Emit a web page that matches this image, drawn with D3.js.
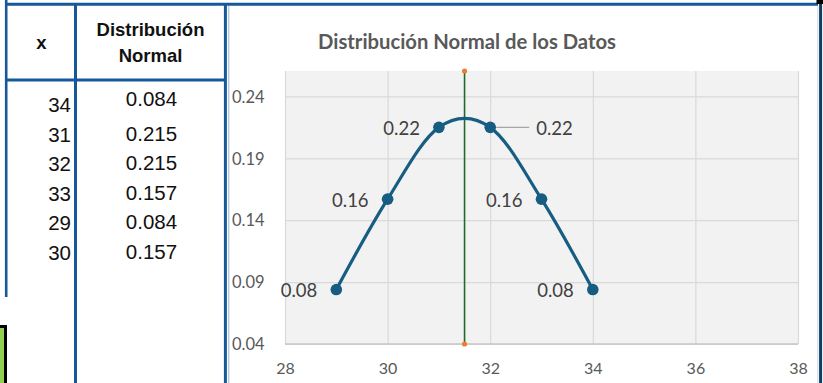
<!DOCTYPE html>
<html>
<head>
<meta charset="utf-8">
<script src="https://cdn.jsdelivr.net/npm/d3@7/dist/d3.min.js"></script>
<style>
  html, body { margin: 0; padding: 0; background: #ffffff; }
  svg { display: block; }
</style>
</head>
<body>
<svg id="chart" width="823" height="383"></svg>
<script>
// ---------------- data ----------------
const tableHeaderX = "x";
const tableHeaderDist = ["Distribución", "Normal"];
const xValues = [34, 31, 32, 33, 29, 30];
const normValues = [0.084, 0.215, 0.215, 0.157, 0.084, 0.157];
const chartTitle = "Distribución Normal de los Datos";
const xTicks = [28, 30, 32, 34, 36, 38];
const yTicks = [0.04, 0.09, 0.14, 0.19, 0.24];
const meanX = 31.5;
const xDomain = [28, 38];
const yDomain = [0.04, 0.2605];

// ---------------- layout ----------------
const W = 823, H = 383;
const plot = { left: 285, right: 798, top: 71, bottom: 344 };
const blue = "#17589a";
const svg = d3.select("#chart");

// ---------- table ----------
const tbl = svg.append("g");
const tFont = "'Liberation Sans', Arial, sans-serif";
tbl.append("text").attr("x", 41.5).attr("y", 49).attr("text-anchor", "middle")
  .attr("font-family", tFont).attr("font-weight", "bold").attr("font-size", 18.5)
  .attr("fill", "#111").text(tableHeaderX);
tableHeaderDist.forEach((t, i) => {
  tbl.append("text").attr("x", 150.5).attr("y", 36 + i * 25.5).attr("text-anchor", "middle")
    .attr("font-family", tFont).attr("font-weight", "bold").attr("font-size", 18.5)
    .attr("fill", "#111").text(t);
});
const rowBase = 112, rowStep = 29.55;
xValues.forEach((v, i) => {
  tbl.append("text").attr("x", 71).attr("y", rowBase + i * rowStep).attr("text-anchor", "end")
    .attr("font-family", tFont).attr("font-size", 20.5).attr("fill", "#111").text(v);
});
normValues.forEach((v, i) => {
  const shift = i === 0 ? -6 : -1;
  tbl.append("text").attr("x", 151.5).attr("y", rowBase + i * rowStep + shift).attr("text-anchor", "middle")
    .attr("font-family", tFont).attr("font-size", 20.5).attr("fill", "#111").text(v.toFixed(3));
});

// green cell at bottom left
svg.append("rect").attr("x", -10).attr("y", 326.5).attr("width", 15.5).attr("height", 80)
  .attr("fill", "#92d050").attr("stroke", "#000").attr("stroke-width", 3);

// ---------- chart ----------
const x = d3.scaleLinear().domain(xDomain).range([plot.left, plot.right]);
const y = d3.scaleLinear().domain(yDomain).range([plot.bottom, plot.top]);

svg.append("rect").attr("x", plot.left).attr("y", plot.top)
  .attr("width", plot.right - plot.left).attr("height", plot.bottom - plot.top)
  .attr("fill", "#f2f2f2");

// gridlines via axes
const gx = svg.append("g").attr("transform", `translate(0,${plot.bottom})`)
  .call(d3.axisBottom(x).tickValues(xTicks).tickSize(-(plot.bottom - plot.top)).tickFormat(""));
gx.select(".domain").remove();
gx.selectAll("line").attr("stroke", "#d9d9d9").attr("stroke-width", 1.2);

const gy = svg.append("g").attr("transform", `translate(${plot.left},0)`)
  .call(d3.axisLeft(y).tickValues(yTicks).tickSize(-(plot.right - plot.left)).tickFormat(""));
gy.select(".domain").remove();
gy.selectAll("line").attr("stroke", "#d9d9d9").attr("stroke-width", 1.2);

// bottom axis line
svg.append("line").attr("x1", plot.left).attr("x2", plot.right)
  .attr("y1", y(yDomain[0])).attr("y2", y(yDomain[0]))
  .attr("stroke", "#c6c6c6").attr("stroke-width", 1.5);

const cFont = "Lato, 'Open Sans', sans-serif";
// axis tick labels
const xAxis = svg.append("g").attr("transform", `translate(0,${plot.bottom})`)
  .call(d3.axisBottom(x).tickValues(xTicks).tickSize(0).tickPadding(0).tickFormat(d3.format("d")));
xAxis.select(".domain").remove();
xAxis.selectAll("text").attr("y", 24).attr("dy", "0.35em")
  .attr("font-family", cFont).attr("font-size", 16).attr("fill", "#595959");

const yAxis = svg.append("g").attr("transform", `translate(${plot.left},0)`)
  .call(d3.axisLeft(y).tickValues(yTicks).tickSize(0).tickFormat(d3.format(".2f")));
yAxis.select(".domain").remove();
yAxis.selectAll("text").attr("x", 232 - plot.left).attr("text-anchor", "start").attr("dy", "0.35em")
  .attr("font-family", cFont).attr("font-size", 16.5).attr("fill", "#595959");

// title
const title = svg.append("text").attr("x", 467).attr("y", 49).attr("text-anchor", "middle")
  .attr("font-family", cFont).attr("font-weight", "bold").attr("font-size", 18)
  .attr("fill", "#595959").text(chartTitle);
const tw = title.node().getComputedTextLength();
if (tw > 0) title.attr("font-size", 18 * 298 / tw);

// mean line
svg.append("line").attr("x1", x(meanX)).attr("x2", x(meanX))
  .attr("y1", y(yDomain[0])).attr("y2", y(yDomain[1]))
  .attr("stroke", "#1e6b2a").attr("stroke-width", 1.6);
[yDomain[0], yDomain[1]].forEach(v => {
  svg.append("circle").attr("cx", x(meanX)).attr("cy", y(v)).attr("r", 2.6).attr("fill", "#ed7d31");
});

// series (sorted by x for the smoothed scatter line)
const pts = xValues.map((v, i) => ({ x: v, y: normValues[i] })).sort((a, b) => a.x - b.x);
const lineColor = "#175d82";
svg.append("path").datum(pts)
  .attr("d", d3.line().x(d => x(d.x)).y(d => y(d.y)).curve(d3.curveCatmullRom.alpha(0)))
  .attr("fill", "none").attr("stroke", lineColor).attr("stroke-width", 3.2);
svg.selectAll("circle.pt").data(pts).enter().append("circle").attr("class", "pt")
  .attr("cx", d => x(d.x)).attr("cy", d => y(d.y)).attr("r", 5.8).attr("fill", lineColor);

// data labels
const fmtLabel = v => (Math.round(v * 100 + 1e-6) / 100).toFixed(2);
const rightLabelIndex = 3;
pts.forEach((d, i) => {
  const px = x(d.x), py = y(d.y);
  if (i === rightLabelIndex) {
    svg.append("line").attr("x1", px + 6).attr("x2", px + 39).attr("y1", py).attr("y2", py)
      .attr("stroke", "#a6a6a6").attr("stroke-width", 1.2);
    svg.append("text").attr("x", px + 46).attr("y", py + 1).attr("dy", "0.35em")
      .attr("text-anchor", "start").attr("font-family", cFont).attr("font-size", 18.5)
      .attr("fill", "#404040").text(fmtLabel(d.y));
  } else {
    svg.append("text").attr("x", px - 19).attr("y", py + 1).attr("dy", "0.35em")
      .attr("text-anchor", "end").attr("font-family", cFont).attr("font-size", 18.5)
      .attr("fill", "#404040").text(fmtLabel(d.y));
  }
});

// ---------- frame lines ----------
const frame = svg.append("g");
frame.append("line").attr("x1", 5).attr("x2", 818).attr("y1", 4.3).attr("y2", 4.3)
  .attr("stroke", blue).attr("stroke-width", 3);
frame.append("line").attr("x1", 6.2).attr("x2", 6.2).attr("y1", 0).attr("y2", 297)
  .attr("stroke", blue).attr("stroke-width", 2.6);
frame.append("line").attr("x1", 5).attr("x2", 226).attr("y1", 80).attr("y2", 80)
  .attr("stroke", blue).attr("stroke-width", 3);
frame.append("line").attr("x1", 75.5).attr("x2", 75.5).attr("y1", 3).attr("y2", H)
  .attr("stroke", blue).attr("stroke-width", 3);
frame.append("line").attr("x1", 225.4).attr("x2", 225.4).attr("y1", 3).attr("y2", H)
  .attr("stroke", blue).attr("stroke-width", 3);
frame.append("line").attr("x1", 228.8).attr("x2", 228.8).attr("y1", 6).attr("y2", H)
  .attr("stroke", "#9db5cd").attr("stroke-width", 1);
frame.append("line").attr("x1", 817.8).attr("x2", 817.8).attr("y1", 6).attr("y2", H)
  .attr("stroke", "#c9d3dc").attr("stroke-width", 1);
frame.append("line").attr("x1", 820.6).attr("x2", 820.6).attr("y1", 0).attr("y2", H)
  .attr("stroke", "#0f3d63").attr("stroke-width", 3);
frame.append("rect").attr("x", 816.5).attr("y", 0).attr("width", 7).attr("height", 4)
  .attr("fill", "#000");
</script>
</body>
</html>
